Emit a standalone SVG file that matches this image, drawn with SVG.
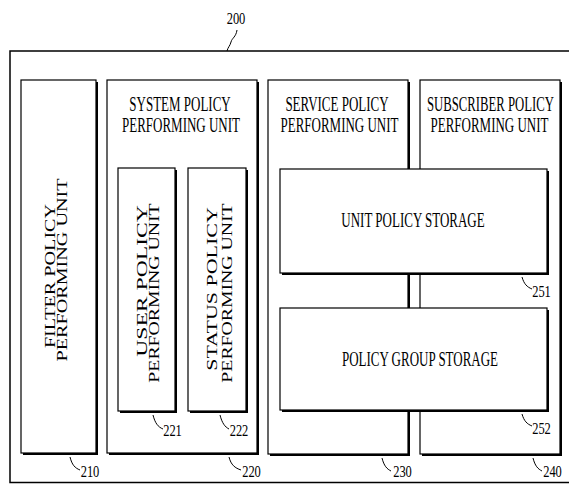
<svg xmlns="http://www.w3.org/2000/svg" width="569" height="484" viewBox="0 0 569 484">
<style>
.box{fill:#fff;stroke:#000;stroke-width:1.2}
.sh{fill:#000}
.t{font-family:"Liberation Serif",serif;font-size:13px;fill:#000}
.v{font-family:"Liberation Serif",serif;font-size:14px;fill:#000}
.n{font-family:"Liberation Serif",serif;font-size:12.5px;fill:#000}
.ld{fill:none;stroke:#000;stroke-width:1}
</style>
<rect width="569" height="484" fill="#fff"/>
<g id="n200">
<rect x="10" y="51" width="575" height="431.5" fill="none" stroke="#000" stroke-width="1.5"/>
<text class="n" transform="translate(236,24) scale(1,1.35)" text-anchor="middle">200</text>
</g>
<g id="n210">
<rect class="sh" x="23" y="82" width="75" height="373"/>
<rect class="box" x="21" y="80" width="75" height="373"/>
<text class="v" transform="translate(55,276) rotate(-90) scale(1.44,1)" text-anchor="middle">FILTER POLICY</text>
<text class="v" transform="translate(67,270) rotate(-90) scale(1.44,1)" text-anchor="middle">PERFORMING UNIT</text>
<text class="n" transform="translate(90,477) scale(1,1.35)" text-anchor="middle">210</text>
</g>
<g id="n220">
<rect class="sh" x="109" y="82" width="150" height="373"/>
<rect class="box" x="107" y="80" width="150" height="373"/>
<text class="t" transform="translate(180,110.5) scale(1,1.55)" text-anchor="middle">SYSTEM POLICY</text>
<text class="t" transform="translate(181,131.5) scale(1,1.55)" text-anchor="middle">PERFORMING UNIT</text>
<text class="n" transform="translate(251.5,477) scale(1,1.35)" text-anchor="middle">220</text>
</g>
<g id="n221">
<rect class="sh" x="120" y="170" width="57" height="243"/>
<rect class="box" x="118" y="168" width="57" height="243"/>
<text class="v" transform="translate(147,281) rotate(-90) scale(1.69,1)" text-anchor="middle">USER POLICY</text>
<text class="v" transform="translate(159,293) rotate(-90) scale(1.41,1)" text-anchor="middle">PERFORMING UNIT</text>
<text class="n" transform="translate(172.5,436) scale(1,1.35)" text-anchor="middle">221</text>
</g>
<g id="n222">
<rect class="sh" x="190" y="170" width="58" height="243"/>
<rect class="box" x="188" y="168" width="58" height="243"/>
<text class="v" transform="translate(217,289) rotate(-90) scale(1.57,1)" text-anchor="middle">STATUS POLICY</text>
<text class="v" transform="translate(232,293) rotate(-90) scale(1.41,1)" text-anchor="middle">PERFORMING UNIT</text>
<text class="n" transform="translate(239,436) scale(1,1.35)" text-anchor="middle">222</text>
</g>
<g id="n230">
<rect class="sh" x="270" y="82" width="140" height="374"/>
<rect class="box" x="268" y="80" width="140" height="374"/>
<text class="t" transform="translate(337,110.5) scale(1,1.55)" text-anchor="middle">SERVICE POLICY</text>
<text class="t" transform="translate(339.5,131.5) scale(1,1.55)" text-anchor="middle">PERFORMING UNIT</text>
<text class="n" transform="translate(402.5,477) scale(1,1.35)" text-anchor="middle">230</text>
</g>
<g id="n240">
<rect class="sh" x="422" y="82" width="140" height="374"/>
<rect class="box" x="420" y="80" width="140" height="374"/>
<text class="t" transform="translate(490.5,110.5) scale(0.98,1.55)" text-anchor="middle">SUBSCRIBER POLICY</text>
<text class="t" transform="translate(489.5,131.5) scale(1,1.55)" text-anchor="middle">PERFORMING UNIT</text>
<text class="n" transform="translate(552.5,477) scale(1,1.35)" text-anchor="middle">240</text>
</g>
<g id="n251">
<rect class="sh" x="282" y="171" width="267" height="104"/>
<rect class="box" x="280" y="169" width="267" height="104"/>
<text class="t" transform="translate(413,227) scale(1,1.55)" text-anchor="middle">UNIT POLICY STORAGE</text>
<text class="n" transform="translate(541.5,297) scale(1,1.35)" text-anchor="middle">251</text>
</g>
<g id="n252">
<rect class="sh" x="282" y="310" width="267" height="102"/>
<rect class="box" x="280" y="308" width="267" height="102"/>
<text class="t" transform="translate(420,366) scale(1,1.55)" text-anchor="middle">POLICY GROUP STORAGE</text>
<text class="n" transform="translate(541.5,434) scale(1,1.35)" text-anchor="middle">252</text>
</g>
<g id="connectors">
<path class="ld" d="M237,30 C236,37 232,38 231,42 C230,46 228,47 227,51"/>
<path class="ld" d="M70,457 C72,465 75,468 80,470"/>
<path class="ld" d="M229,457 C231,465 235,468 241,470"/>
<path class="ld" d="M153,415 C155,423 158,427 163,429"/>
<path class="ld" d="M220,415 C222,423 225,427 229,429"/>
<path class="ld" d="M382,458 C384,466 387,469 391,471"/>
<path class="ld" d="M533,458 C535,466 538,469 542,471"/>
<path class="ld" d="M522,277 C524,284 527,287 532,289"/>
<path class="ld" d="M522,414 C524,421 527,424 532,426"/>
</g>
</svg>
